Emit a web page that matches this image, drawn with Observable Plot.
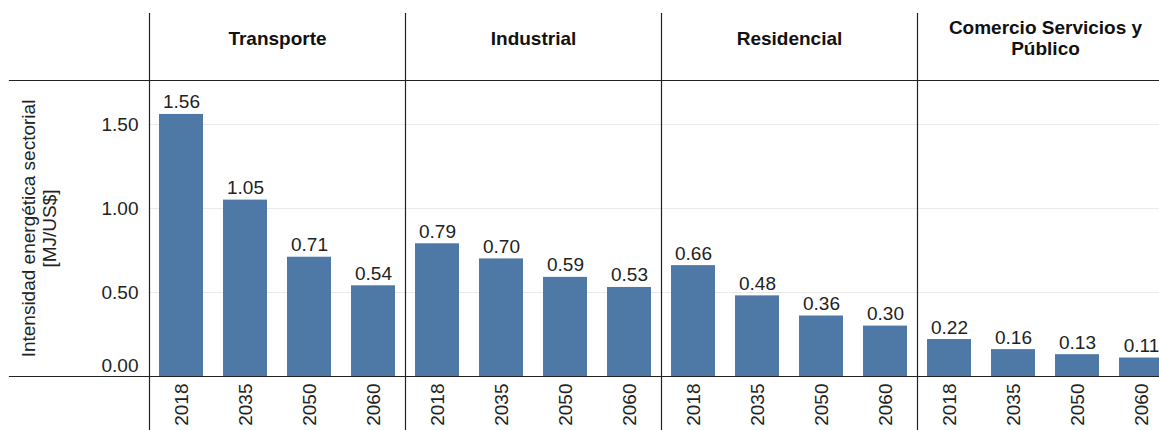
<!DOCTYPE html>
<html>
<head>
<meta charset="utf-8">
<script src="https://cdn.jsdelivr.net/npm/d3@7"></script>
<script src="https://cdn.jsdelivr.net/npm/@observablehq/plot@0.6"></script>
<style>
  html, body { margin: 0; padding: 0; background: #fff; overflow: hidden; }
  #chart { width: 1159px; height: 430px; overflow: hidden; }
</style>
</head>
<body>
<div id="chart"></div>
<script>
const sectors = ["Transporte", "Industrial", "Residencial", "Comercio Servicios y Público"];
const sectorLabels = ["Transporte", "Industrial", "Residencial", "Comercio Servicios y\nPúblico"];
const years = ["2018", "2035", "2050", "2060"];
const transporte = [1.56, 1.05, 0.71, 0.54];
const industrial = [0.79, 0.70, 0.59, 0.53];
const residencial = [0.66, 0.48, 0.36, 0.30];
const comercio = [0.22, 0.16, 0.13, 0.11];
const yTicks = [0.5, 1.0, 1.5];
const yZeroTick = [0];
const yTitle = "Intensidad energética sectorial\n[MJ/US$]";

const seriesBySector = [transporte, industrial, residencial, comercio];
const data = [];
sectors.forEach((s, i) => {
  years.forEach((y, j) => data.push({sector: s, year: y, value: seriesBySector[i][j]}));
});

const lineColor = "#222";
const chart = Plot.plot({
  width: 1159,
  height: 430,
  marginLeft: 148,
  marginRight: -15,
  marginTop: 80,
  marginBottom: 54,
  style: {fontFamily: "'Liberation Sans', Arial, sans-serif", fontSize: "19px", color: "#222", background: "#fff", overflow: "visible"},
  fx: {domain: sectors, padding: 0, axis: null},
  x: {domain: years, paddingInner: 0.32, paddingOuter: 0.15, axis: null},
  y: {domain: [0, 1.762], axis: null},
  marks: [
    Plot.gridY(yTicks, {stroke: "#ebebeb", strokeOpacity: 1}),
    Plot.barY(data, {fx: "sector", x: "year", y: "value", fill: "#4e79a7"}),
    Plot.text(data, {fx: "sector", x: "year", y: "value", text: d => d.value.toFixed(2), lineAnchor: "bottom", dy: -6, fill: "#222"}),
    Plot.axisX({tickSize: 0, tickRotate: -90, tickPadding: 7, fill: "#222", label: null}),
    Plot.axisY(yTicks, {tickSize: 0, tickPadding: 11, tickFormat: d => d.toFixed(2), label: null, fill: "#222"}),
    Plot.axisY(yZeroTick, {tickSize: 0, tickPadding: 11, tickFormat: d => d.toFixed(2), label: null, fill: "#222", dy: -11}),
    Plot.frame({anchor: "left", insetTop: -67, insetBottom: -54, stroke: lineColor, strokeWidth: 1.2}),
    Plot.frame({anchor: "top", insetLeft: -140, stroke: lineColor, strokeWidth: 1.2}),
    Plot.frame({anchor: "bottom", insetLeft: -140, stroke: lineColor, strokeWidth: 1.2}),
    Plot.text(sectorLabels, {fx: (d, i) => sectors[i], text: d => d, frameAnchor: "top", dy: -43, lineAnchor: "middle", fontWeight: "bold", fill: "#111", lineHeight: 1.15}),
    Plot.text([yTitle], {fx: () => sectors[0], text: d => d, frameAnchor: "left", textAnchor: "middle", rotate: -90, dx: -111, lineAnchor: "middle", fill: "#222", lineHeight: 1.15})
  ]
});
document.getElementById("chart").appendChild(chart);
</script>
</body>
</html>
